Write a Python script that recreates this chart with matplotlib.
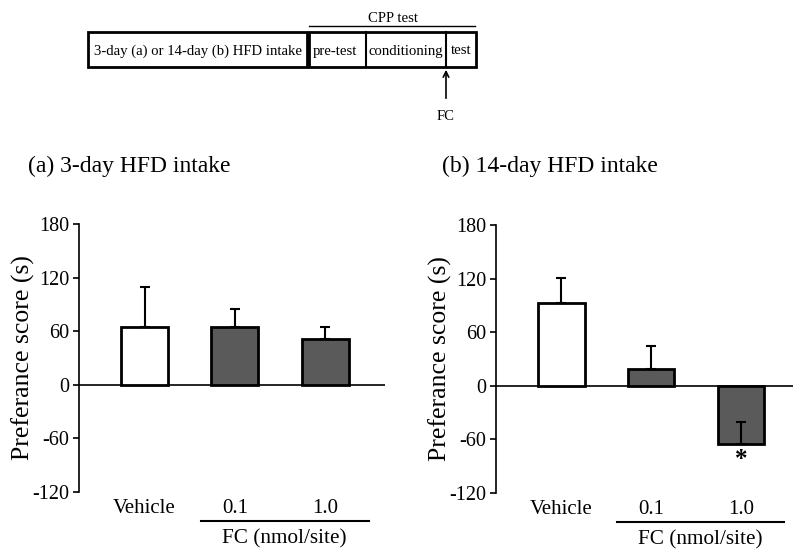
import matplotlib

matplotlib.use("Agg")
import matplotlib.pyplot as plt
from matplotlib.patches import Rectangle

plt.rcParams["font.family"] = ["Liberation Serif", "DejaVu Serif"]

groups = ["Vehicle", "0.1", "1.0"]
a_mean = [65, 65, 51]
a_sem = [44, 20, 14]
b_mean = [93, 19, -65]
b_sem = [28, 25, 25]
yticks = [-120, -60, 0, 60, 120, 180]

BAR_COLORS = ["white", "#5a5a5a", "#5a5a5a"]
W, H = 794, 554
DIAG_FS = 10.6


def px(x0, y_top, x1, y_bot):
    return [x0 / W, 1 - y_bot / H, (x1 - x0) / W, (y_bot - y_top) / H]


fig = plt.figure(figsize=(W / 100, H / 100), dpi=100)

# timeline diagram on top (pixel coordinates)
top = fig.add_axes([0, 0, 1, 1])
top.set_xlim(0, W)
top.set_ylim(H, 0)
top.axis("off")
top.add_patch(Rectangle((88, 32), 219, 35, fill=False, lw=2, ec="black"))
top.add_patch(Rectangle((309, 32), 167, 35, fill=False, lw=2, ec="black"))
top.plot([366, 366], [32, 67], color="black", lw=1.5)
top.plot([446, 446], [32, 67], color="black", lw=1.5)
top.plot([309, 475], [26, 26], color="black", lw=1)
top.text(198, 51, "3-day (a) or 14-day (b) HFD intake", ha="center", va="center", fontsize=DIAG_FS)
top.text(335, 51, "pre-test", ha="center", va="center", fontsize=DIAG_FS)
top.text(406, 51, "conditioning", ha="center", va="center", fontsize=DIAG_FS)
top.text(461, 51, "test", ha="center", va="center", fontsize=DIAG_FS)
top.text(393, 18, "CPP test", ha="center", va="center", fontsize=DIAG_FS)
top.annotate("", xy=(446, 67), xytext=(446, 101),
             arrowprops=dict(arrowstyle="->", color="black", lw=1.2))
top.text(446, 117, "FC", ha="center", va="center", fontsize=DIAG_FS)

top.text(28, 166, "(a) 3-day HFD intake", ha="left", va="center", fontsize=17)
top.text(442, 166, "(b) 14-day HFD intake", ha="left", va="center", fontsize=17)


def panel(rect, means, sems, xmax, star=False):
    ax = fig.add_axes(rect)
    x = list(range(len(groups)))
    ax.bar(x, means, width=0.52, color=BAR_COLORS, edgecolor="black", lw=2, zorder=2)
    ax.errorbar(x, means, yerr=[[0] * len(sems), sems], fmt="none", ecolor="black",
                elinewidth=1.5, capsize=3.5, capthick=1.5, zorder=3)
    ax.axhline(0, color="black", lw=1.2, zorder=1)
    ax.set_xlim(-0.725, xmax)
    ax.set_ylim(-120, 180)
    ax.set_yticks(yticks)
    ax.set_yticklabels([str(t) for t in yticks], fontsize=14.5)
    ax.set_xticks(x)
    ax.set_xticklabels(groups, fontsize=15)
    ax.tick_params(axis="x", length=0, pad=5)
    ax.tick_params(axis="y", direction="out", length=4, width=1.2, pad=3)
    for s in ["top", "right", "bottom"]:
        ax.spines[s].set_visible(False)
    ax.spines["left"].set_linewidth(1.2)
    ax.set_ylabel("Preferance score (s)", fontsize=18.5, labelpad=-2)
    ax.plot([0.62, 2.48], [-0.107, -0.107], color="black", lw=1.5,
            transform=ax.get_xaxis_transform(), clip_on=False)
    ax.text(1.55, -0.175, "FC (nmol/site)", ha="center", va="center", fontsize=15.3,
            transform=ax.get_xaxis_transform())
    if star:
        ax.text(2, -82, "*", ha="center", va="center", fontsize=18, fontweight="bold")
    return ax


panel(px(79, 224, 385, 492), a_mean, a_sem, 2.66)
panel(px(496, 225, 793, 493), b_mean, b_sem, 2.58, star=True)

fig.savefig("out.png", dpi=100)
